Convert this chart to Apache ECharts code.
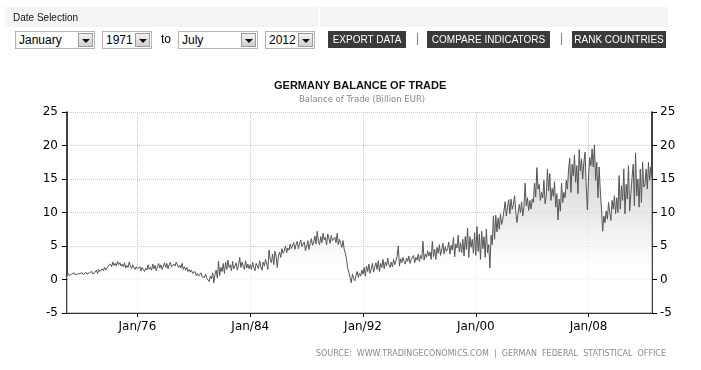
<!DOCTYPE html>
<html>
<head>
<meta charset="utf-8">
<script src="https://cdn.jsdelivr.net/npm/echarts@6/dist/echarts.min.js"></script>
<style>
  html, body { margin: 0; padding: 0; background: #fff; }
  #wrap { position: relative; width: 701px; height: 370px; overflow: hidden; }
  #chart { position: absolute; left: 0; top: 0; width: 701px; height: 370px; }
  .hdr { position: absolute; font-family: "Liberation Sans", Arial, sans-serif; z-index: 5; }
  .bar { background: #f4f4f4; height: 20px; top: 7px; }
  .lbl { font-size: 10px; color: #111; top: 12px; left: 13px; }
  .dd { top: 31px; border: 1px solid #b5b5b5; background: #fff; font-size: 12px; line-height: 16px; color: #000; padding-left: 3px; box-sizing: border-box; height: 18px; }
  .dd .btn { position: absolute; right: 1px; top: 1px; width: 15px; height: 14px; background: linear-gradient(#f2f2f2, #cfcfcf); border: 1px solid #9a9a9a; box-sizing: border-box; }
  .dd .btn:after { content: ""; position: absolute; left: 3px; top: 5px; border-left: 4px solid transparent; border-right: 4px solid transparent; border-top: 4px solid #111; }
  .to { top: 32px; font-size: 12px; color: #000; }
  .act { top: 31px; height: 17px; background: #3a3a3a; color: #fff; font-size: 10px; line-height: 17px; text-align: center; }
  .sep { top: 31px; font-size: 12px; color: #3b8ed3; }
</style>
</head>
<body>
<div id="wrap">
  <div id="chart"></div>
  <div class="hdr bar" style="left:5px;width:313px;"></div>
  <div class="hdr bar" style="left:320px;width:348px;"></div>
  <div class="hdr lbl">Date Selection</div>
  <div class="hdr dd" style="left:15px;width:80px;">January<div class="btn"></div></div>
  <div class="hdr dd" style="left:102px;width:50px;">1971<div class="btn"></div></div>
  <div class="hdr to" style="left:161px;">to</div>
  <div class="hdr dd" style="left:178px;width:80px;">July<div class="btn"></div></div>
  <div class="hdr dd" style="left:265px;width:50px;">2012<div class="btn"></div></div>
  <div class="hdr act" style="left:328px;width:78px;">EXPORT DATA</div>
  <div class="hdr sep" style="left:416px;">|</div>
  <div class="hdr act" style="left:427px;width:123px;">COMPARE INDICATORS</div>
  <div class="hdr sep" style="left:560px;">|</div>
  <div class="hdr act" style="left:572px;width:94px;">RANK COUNTRIES</div>
</div>
<script>
// Monthly balance of trade, billion EUR, Jan 1971 - Jul 2012
const values1970s = [
  0.5,0.9,0.6,0.7,0.8,0.6,1.0,0.7,0.9,0.8,0.6,0.9,
  0.8,1.0,0.7,0.9,1.1,0.8,0.7,1.0,0.9,1.2,0.8,1.0,
  1.1,1.4,0.9,1.5,1.2,1.0,1.6,1.3,1.8,1.4,1.6,2.0,
  1.8,2.3,1.9,2.6,2.1,2.4,2.0,2.7,2.2,2.5,2.0,2.3,
  1.9,2.5,1.7,2.1,1.8,2.6,2.0,1.6,2.2,1.8,1.5,1.9,
  1.6,1.4,1.9,1.3,1.8,1.5,1.2,1.7,1.4,2.2,1.5,1.8,
  1.4,2.3,1.6,2.1,1.3,1.9,2.4,1.7,2.2,1.5,2.0,2.5,
  1.8,2.4,1.6,2.2,2.6,1.9,1.7,2.3,2.0,2.6,2.2,1.8,
  2.1,1.7,2.4,1.5,1.9,1.4,1.8,1.2,1.5,1.1,1.4,0.9
];
const values1980s = [
  0.8,1.2,0.6,0.9,0.5,0.7,1.0,0.4,0.6,0.3,0.8,0.2,
  0.4,-0.3,0.5,0.1,1.0,-0.5,0.8,1.4,0.2,2.7,0.6,1.8,
  1.2,2.4,0.9,2.6,1.5,2.9,1.8,2.2,1.3,2.7,1.6,2.0,
  2.5,1.4,2.1,3.3,1.8,2.6,2.0,1.5,2.8,1.7,2.3,1.6,
  2.2,1.5,2.6,1.8,1.3,2.4,2.0,1.6,2.8,1.9,1.4,2.6,
  2.0,3.0,2.3,1.5,4.4,3.0,2.5,3.8,2.2,4.2,3.5,1.8,
  3.5,4.1,3.3,4.6,3.9,4.3,5.0,4.0,4.7,4.4,5.3,4.6,
  4.8,5.5,4.5,5.2,5.7,4.6,5.4,5.9,4.9,5.3,5.6,4.3,
  5.0,5.8,4.5,5.4,6.1,5.1,5.6,6.5,5.3,7.2,5.8,5.2,
  6.4,5.5,6.9,5.9,6.3,5.2,6.8,6.1,5.4,6.6,5.8,5.6
];
const values1990s = [
  6.3,5.5,6.9,5.2,6.0,5.4,4.8,5.8,4.5,3.9,3.0,1.6,
  1.0,0.3,-0.5,0.8,0.2,-0.2,0.6,1.2,0.3,0.9,0.5,1.4,
  0.8,1.8,0.5,2.0,1.2,2.3,0.9,1.6,2.4,1.1,1.9,2.5,
  1.5,2.8,1.2,2.4,1.8,3.0,1.6,2.6,2.0,3.2,2.2,1.8,
  2.6,1.9,3.0,2.2,2.8,3.4,5.0,2.0,3.1,2.5,3.3,2.7,
  2.3,3.2,2.7,3.5,2.4,3.0,2.8,3.6,2.5,3.3,2.9,3.8,
  2.7,3.6,3.1,5.7,2.9,3.8,3.3,4.3,3.5,4.1,3.0,5.7,
  3.4,4.5,3.0,4.8,3.9,5.2,3.6,4.4,5.4,3.8,4.9,4.2,
  4.6,5.6,3.8,5.1,4.4,6.3,3.4,5.3,4.7,6.6,4.1,5.5,
  4.0,6.0,3.5,6.4,4.5,7.7,3.3,6.4,4.8,6.0,3.9,7.0
];
const values2000s = [
  3.6,7.9,4.2,6.8,3.0,7.2,4.6,6.4,3.3,7.5,4.0,5.2,
  1.7,6.6,5.2,9.5,6.0,9.6,7.1,9.2,7.5,9.8,8.2,9.0,
  9.0,11.6,9.5,10.8,11.9,9.8,12.0,10.5,11.2,12.5,10.2,8.5,
  9.8,11.2,10.0,11.6,9.5,10.8,14.4,11.0,12.2,10.3,11.8,10.5,
  12.0,11.5,14.4,12.3,16.7,13.5,14.2,11.8,13.0,12.2,14.8,11.3,
  12.5,16.5,13.2,15.8,11.8,13.6,12.4,14.6,10.8,12.8,8.9,12.0,
  10.2,14.4,11.5,13.0,12.2,14.8,13.5,16.5,18.1,13.0,17.2,15.5,
  18.6,14.5,17.0,12.8,19.4,16.2,18.0,15.0,17.5,19.0,14.0,10.4,
  15.5,18.2,17.0,19.5,16.8,20.1,14.8,17.5,12.2,16.8,13.2,10.5,
  7.2,9.5,8.5,10.2,9.0,11.5,10.0,8.8,11.8,10.5,12.5,9.8
];
const values2010s = [
  12.2,10.0,15.5,10.5,14.0,11.8,16.5,9.8,14.2,12.0,17.0,10.2,
  12.8,15.2,17.2,11.0,18.9,12.5,15.0,10.8,16.5,11.5,17.5,13.8,
  14.2,16.5,13.5,17.5,14.8,16.8,15.2
];
const startYear = 1971;
const monthNames = ['Jan','Feb','Mar','Apr','May','Jun','Jul','Aug','Sep','Oct','Nov','Dec'];
const labelYears = [1976, 1984, 1992, 2000, 2008];
const yTicks = { min: -5, max: 25, interval: 5 };

const values = [].concat(values1970s, values1980s, values1990s, values2000s, values2010s);
const categories = values.map((v, i) => {
  const y = startYear + Math.floor(i / 12);
  return monthNames[i % 12] + '/' + String(y).slice(2);
});
const labelSet = new Set(labelYears.map(y => 'Jan/' + String(y).slice(2)));
const showIdx = (i, v) => labelSet.has(v);

const chart = echarts.init(document.getElementById('chart'), null, { renderer: 'canvas' });
const fontFam = '"DejaVu Sans", Verdana, sans-serif';
chart.setOption({
  animation: false,
  backgroundColor: '#fff',
  grid: { left: 67, right: 49, top: 112, bottom: 57 },
  graphic: [
    { type: 'text', left: 274, top: 80, style: { text: 'GERMANY BALANCE OF TRADE', font: 'bold 11px "Liberation Sans", Arial, sans-serif', fill: '#111' } },
    { type: 'text', left: 299, top: 95, style: { text: 'Balance of Trade (Billion EUR)', font: '8.5px "DejaVu Sans", Verdana, sans-serif', fill: '#888' } },
    { type: 'text', right: 35, top: 350, style: { text: 'SOURCE:  WWW.TRADINGECONOMICS.COM  |  GERMAN  FEDERAL  STATISTICAL  OFFICE', font: '8px "DejaVu Sans", Verdana, sans-serif', fill: '#8a8a8a' } }
  ],
  xAxis: {
    type: 'category',
    data: categories,
    boundaryGap: false,
    axisLine: { onZero: false, lineStyle: { color: '#000', width: 1.5 } },
    axisTick: { show: true, interval: showIdx, length: 4, lineStyle: { color: '#000' } },
    axisLabel: { interval: showIdx, color: '#000', fontFamily: fontFam, fontSize: 12, margin: 8 },
    splitLine: { show: true, interval: showIdx, lineStyle: { color: '#c8c8c8', type: 'dotted', width: 1 } }
  },
  yAxis: [
    {
      type: 'value', min: yTicks.min, max: yTicks.max, interval: yTicks.interval, position: 'left',
      axisLine: { show: true, onZero: false, lineStyle: { color: '#000', width: 1.5 } },
      axisTick: { show: true, length: 5, lineStyle: { color: '#000' } },
      axisLabel: { color: '#000', fontFamily: fontFam, fontSize: 12, margin: 9 },
      splitLine: { show: true, lineStyle: { color: '#c8c8c8', type: 'dotted', width: 1 } }
    },
    {
      type: 'value', min: yTicks.min, max: yTicks.max, interval: yTicks.interval, position: 'right',
      axisLine: { show: true, onZero: false, lineStyle: { color: '#000', width: 1.5 } },
      axisTick: { show: true, length: 5, lineStyle: { color: '#000' } },
      axisLabel: { color: '#000', fontFamily: fontFam, fontSize: 12, margin: 8 },
      splitLine: { show: false }
    }
  ],
  series: [{
    type: 'line',
    data: values,
    yAxisIndex: 0,
    symbol: 'none',
    lineStyle: { color: '#555', width: 1 },
    areaStyle: {
      origin: 'start',
      color: new echarts.graphic.LinearGradient(0, 0, 0, 1, [
        { offset: 0, color: '#b8b8b8' },
        { offset: 0.72, color: '#ffffff' },
        { offset: 1, color: '#ffffff' }
      ])
    }
  }]
});
</script>
</body>
</html>
